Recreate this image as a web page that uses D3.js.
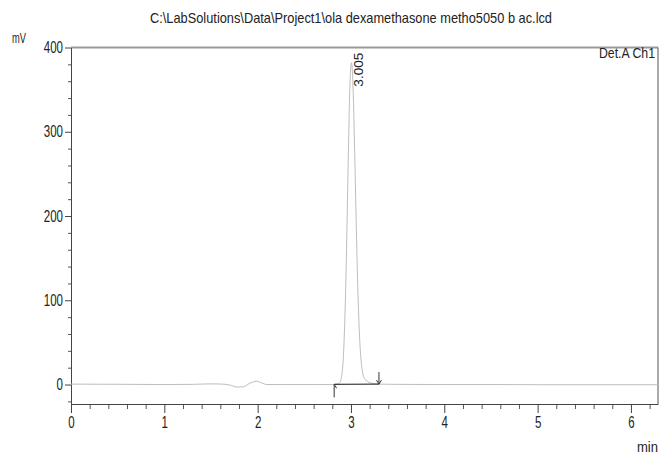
<!DOCTYPE html>
<html><head><meta charset="utf-8">
<script src="https://cdn.jsdelivr.net/npm/d3@7"></script>
<style>
html,body{margin:0;padding:0;background:#fff;}
svg{display:block;}
text{font-family:"Liberation Sans",Arial,sans-serif;fill:#222;}
</style></head>
<body>
<svg id="chart" width="663" height="454"></svg>
<script>
// ---- data ----
const title = "C:\\LabSolutions\\Data\\Project1\\ola dexamethasone metho5050 b ac.lcd";
const yUnit = "mV";
const xUnit = "min";
const channel = "Det.A Ch1";
const xTickValues = [0, 1, 2, 3, 4, 5, 6];
const yTickValues = [0, 100, 200, 300, 400];
const timeMin = [0, 0.5, 1.0, 1.3, 1.5, 1.6, 1.7, 1.78, 1.85, 1.9, 1.95, 1.99, 2.04, 2.1, 2.3, 2.6, 2.8,
  2.865, 2.885, 2.895, 2.905, 2.915, 2.925, 2.935, 2.945, 2.955, 2.965, 2.975, 2.985, 2.995, 3.005,
  3.015, 3.025, 3.035, 3.045, 3.055, 3.065, 3.075, 3.085, 3.095, 3.105, 3.125, 3.145, 3.175, 3.205,
  3.255, 3.305, 3.5, 4.0, 4.5, 5.0, 5.5, 6.0, 6.29];
const signalMV = [0.5, 0.3, 0.0, 0.2, 0.8, 0.6, -0.5, -3.0, -2.5, 0.5, 3.0, 4.0, 2.0, 0.0, 0.0, 0.0, 0.0,
  1, 3, 7, 14, 26, 48, 80, 122, 175, 232, 290, 340, 372, 382,
  372, 343, 300, 250, 198, 150, 108, 75, 50, 33, 14, 7, 4, 2,
  1, 0.5, 0.2, 0.0, 0.0, -0.2, -0.2, -0.2, -0.2];
const peakRT = ["3.005"];
const peakTime = [3.005];
const peakHeight = [382];
const integStart = [2.82, 0.3];   // [time, mV]
const integEnd = [3.30, 0.5];

// ---- layout ----
const svg = d3.select("#chart");
const L = 71, R = 658, T = 47.5, B = 404;
const x = d3.scaleLinear().domain([0, 6.29]).range([L, R]);
const y = d3.scaleLinear().domain([-23.1, 400]).range([B, T]);
const SX = 0.72; // condensed text

function condense(sel, sx) {
  sel.each(function () {
    const t = d3.select(this);
    const xv = +t.attr("x") || 0;
    t.attr("x", xv / sx).attr("transform", `scale(${sx},1)`);
  });
}

// title
svg.append("text").attr("x", 351).attr("y", 23).attr("text-anchor", "middle")
  .style("font-size", "14.5px").attr("textLength", 402).attr("lengthAdjust", "spacingAndGlyphs")
  .text(title);

// y unit
svg.append("text").attr("x", 12).attr("y", 43).style("font-size", "15px")
  .attr("textLength", 14).attr("lengthAdjust", "spacingAndGlyphs").text(yUnit);
// x unit
svg.append("text").attr("x", 637).attr("y", 452).style("font-size", "15px")
  .attr("textLength", 21).attr("lengthAdjust", "spacingAndGlyphs").text(xUnit);

// frame: top and right borders
svg.append("line").attr("x1", L).attr("x2", R).attr("y1", T).attr("y2", T)
  .attr("stroke", "#9a9a9a").attr("stroke-width", 2);
svg.append("line").attr("x1", R).attr("x2", R).attr("y1", T).attr("y2", B)
  .attr("stroke", "#555").attr("stroke-width", 1);

// y axis minor ticks
const yMinor = d3.range(-20, 400, 20).filter(v => v % 100 !== 0);
svg.append("g").attr("transform", `translate(${L},0)`)
  .call(d3.axisLeft(y).tickValues(yMinor).tickSize(3).tickFormat(""))
  .call(g => g.select(".domain").remove())
  .selectAll("line").attr("stroke", "#555");
// y axis major
const gy = svg.append("g").attr("transform", `translate(${L},0)`)
  .call(d3.axisLeft(y).tickValues(yTickValues).tickSize(6).tickPadding(2).tickSizeOuter(0).tickFormat(d3.format("d")));
gy.select(".domain").attr("stroke", "#444");
gy.selectAll("line").attr("stroke", "#444");
gy.selectAll("text").style("font-size", "16px").style("font-family", null).attr("fill", "#222");
condense(gy.selectAll("text"), SX);

// x axis minor ticks
const xMinor = d3.range(0, 6.3, 0.2).map(v => +v.toFixed(1)).filter(v => Math.abs(v - Math.round(v)) > 1e-6);
svg.append("g").attr("transform", `translate(0,${B})`)
  .call(d3.axisBottom(x).tickValues(xMinor).tickSize(5).tickFormat(""))
  .call(g => g.select(".domain").remove())
  .selectAll("line").attr("stroke", "#555");
const gx = svg.append("g").attr("transform", `translate(0,${B})`)
  .call(d3.axisBottom(x).tickValues(xTickValues).tickSize(9).tickPadding(4).tickSizeOuter(0).tickFormat(d3.format("d")));
gx.select(".domain").attr("stroke", "#444");
gx.selectAll("line").attr("stroke", "#444");
gx.selectAll("text").style("font-size", "16px").style("font-family", null).attr("fill", "#222");
condense(gx.selectAll("text"), SX);

// channel label
svg.append("text").attr("x", 655).attr("y", 58).attr("text-anchor", "end")
  .style("font-size", "14px").attr("textLength", 56).attr("lengthAdjust", "spacingAndGlyphs")
  .text(channel);

// chromatogram
const line = d3.line().x((d, i) => x(timeMin[i])).y(d => y(d)).curve(d3.curveMonotoneX);
svg.append("path").datum(signalMV).attr("d", line)
  .attr("fill", "none").attr("stroke", "#bdbdbd").attr("stroke-width", 1);

// integration baseline
svg.append("line")
  .attr("x1", x(integStart[0])).attr("y1", y(integStart[1]))
  .attr("x2", x(integEnd[0])).attr("y2", y(integEnd[1]))
  .attr("stroke", "#444").attr("stroke-width", 1.2);
// start marker (arrow up)
const sx0 = x(integStart[0]), sy0 = y(integStart[1]);
svg.append("path")
  .attr("d", `M${sx0},${sy0 + 13} L${sx0},${sy0} M${sx0},${sy0} L${sx0 + 2.5},${sy0 + 4}`)
  .attr("fill", "none").attr("stroke", "#333").attr("stroke-width", 1);
// end marker (arrow down)
const ex0 = x(integEnd[0]), ey0 = y(integEnd[1]);
svg.append("path")
  .attr("d", `M${ex0},${ey0 - 12} L${ex0},${ey0} M${ex0},${ey0} L${ex0 - 2.5},${ey0 - 4} M${ex0},${ey0} L${ex0 + 2.5},${ey0 - 4}`)
  .attr("fill", "none").attr("stroke", "#333").attr("stroke-width", 1);

// peak label (vertical)
peakRT.forEach((lab, i) => {
  const px = x(peakTime[i]) + 11.5;
  const py = y(peakHeight[i]) + 24;
  svg.append("text")
    .attr("transform", `translate(${px},${py}) rotate(-90)`)
    .attr("text-anchor", "start")
    .style("font-size", "12px").attr("fill", "#555")
    .attr("textLength", 34).attr("lengthAdjust", "spacingAndGlyphs")
    .text(lab);
});
</script>
</body></html>
